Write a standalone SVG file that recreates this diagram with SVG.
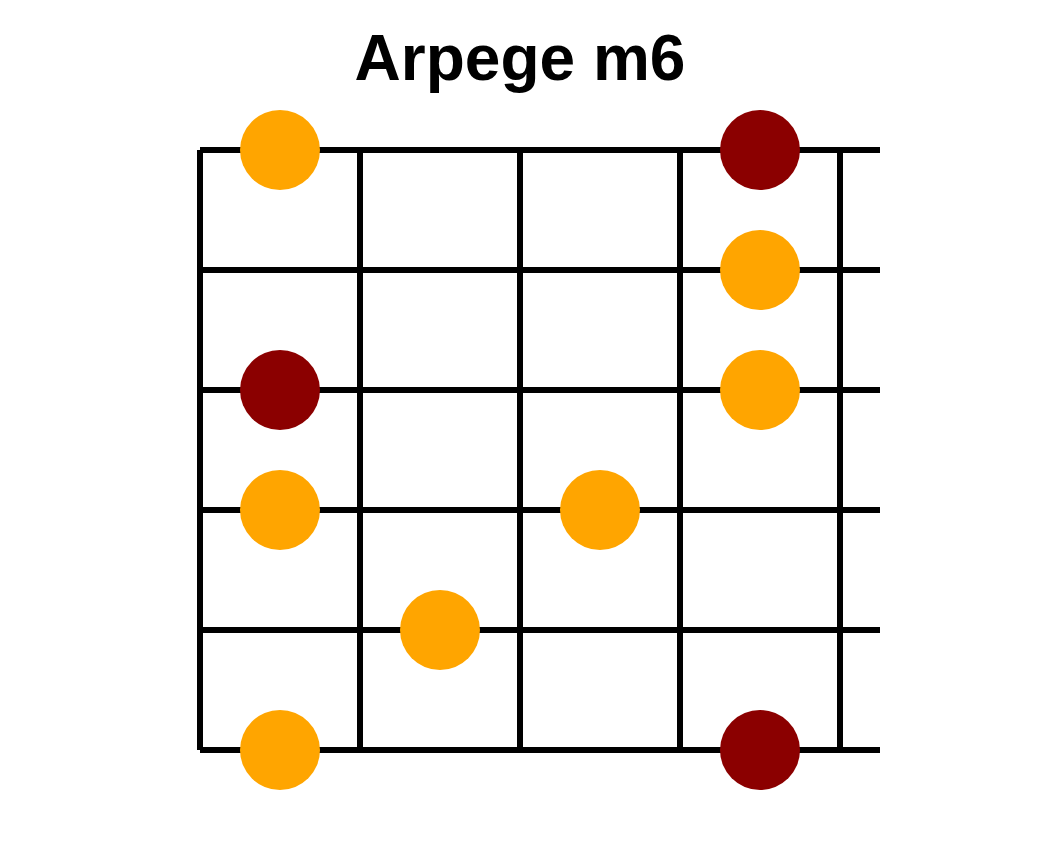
<svg xmlns="http://www.w3.org/2000/svg" width="1040" height="850" viewBox="0 0 1040 850">
<style>
.ln{stroke:#000;stroke-width:6;fill:none}
.o{fill:#FFA500}
.r{fill:#8B0000}
.t{font-family:"Liberation Sans",Arial,sans-serif;font-weight:bold;font-size:64px;fill:#000}
</style>
<rect width="1040" height="850" fill="#fff"/>
<text class="t" x="520" y="80" text-anchor="middle">Arpege m6</text>
<g id="grid">
<line class="ln" x1="200" y1="150" x2="880" y2="150"/>
<line class="ln" x1="200" y1="270" x2="880" y2="270"/>
<line class="ln" x1="200" y1="390" x2="880" y2="390"/>
<line class="ln" x1="200" y1="510" x2="880" y2="510"/>
<line class="ln" x1="200" y1="630" x2="880" y2="630"/>
<line class="ln" x1="200" y1="750" x2="880" y2="750"/>
<line class="ln" x1="200" y1="150" x2="200" y2="750"/>
<line class="ln" x1="360" y1="150" x2="360" y2="750"/>
<line class="ln" x1="520" y1="150" x2="520" y2="750"/>
<line class="ln" x1="680" y1="150" x2="680" y2="750"/>
<line class="ln" x1="840" y1="150" x2="840" y2="750"/>
</g>
<g id="n1"><circle class="o" cx="280" cy="150" r="40"/></g>
<g id="n2"><circle class="r" cx="760" cy="150" r="40"/></g>
<g id="n3"><circle class="o" cx="760" cy="270" r="40"/></g>
<g id="n4"><circle class="r" cx="280" cy="390" r="40"/></g>
<g id="n5"><circle class="o" cx="760" cy="390" r="40"/></g>
<g id="n6"><circle class="o" cx="280" cy="510" r="40"/></g>
<g id="n7"><circle class="o" cx="600" cy="510" r="40"/></g>
<g id="n8"><circle class="o" cx="440" cy="630" r="40"/></g>
<g id="n9"><circle class="o" cx="280" cy="750" r="40"/></g>
<g id="n10"><circle class="r" cx="760" cy="750" r="40"/></g>
</svg>
